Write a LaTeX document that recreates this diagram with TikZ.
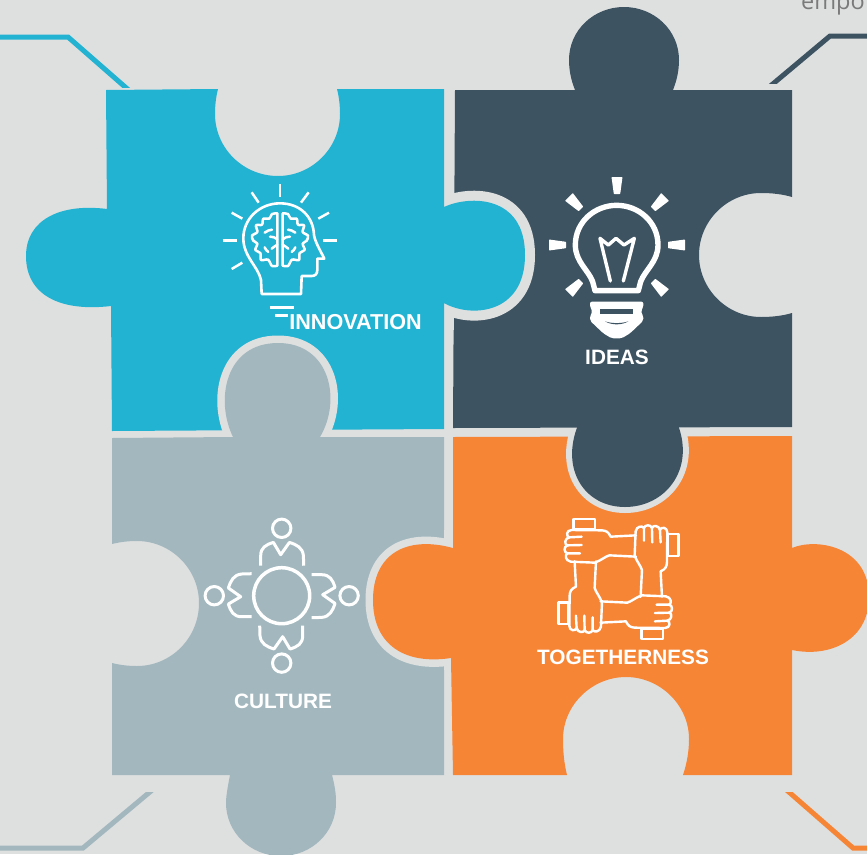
\documentclass[tikz,border=0pt]{standalone}
\usepackage{fontspec}
\setmainfont{Liberation Sans}
\newfontfamily\thinfont{Open Sans}
\definecolor{bgc}{HTML}{DEE0E0}
\definecolor{bluec}{HTML}{22B2D2}
\definecolor{darkc}{HTML}{3D5361}
\definecolor{orangec}{HTML}{F78536}
\definecolor{grayc}{HTML}{A3B8BE}
\tikzset{
  zoomed/.style 2 args={shift={(#1pt,-#2pt)},x=.33333pt,y=-.33333pt},
  label text/.style={text=white,font=\bfseries\fontsize{20.8}{24}\selectfont,inner sep=0pt},
  iconline/.style={draw=white,line width=#1,line cap=round,line join=round},
  iconline/.default=3pt,
  gap/.style={draw=bgc,line width=#1,fill=none},
  link/.style={line width=5pt,line join=miter}
}
\newcommand{\LobePath}{
  \draw[iconline=2.5pt] plot[smooth,tension=.55] coordinates {(232,130)(216,132)(208,146)(190,146)(186,164)(168,166)(172,186)(156,197)(160,212)(172,221)(166,240)(181,249)(183,270)(204,269)(216,288)(232,287)} -- cycle;
  \draw[iconline=2.5pt] (194,188) .. controls (202,182) and (208,180) .. (216,179);
  \draw[iconline=2.5pt] (210,200) .. controls (218,198) and (226,204) .. (232,208);
  \draw[iconline=2.5pt] (194,232) .. controls (196,238) and (200,242) .. (205,246);
  \draw[iconline=2.5pt] (215,236) .. controls (222,232) and (226,226) .. (232,224);
}
\begin{document}
\begin{tikzpicture}[x=1pt,y=-1pt]
\useasboundingbox (0,0) rectangle (867,854);
\clip (0,0) rectangle (867,854);
\fill[bgc] (0,0) rectangle (867,854);

% caption fragment
\node[anchor=base west,inner sep=0pt,text=black!52,font=\thinfont\fontsize{23.5}{26}\selectfont] (caption) at (801,9) {empo};

% connectors
\coordinate (tl0) at (0,37); \coordinate (tl1) at (68,37); \coordinate (tl2) at (132,93);
\coordinate (tr0) at (867,36); \coordinate (tr1) at (830,36); \coordinate (tr2) at (768,88);
\coordinate (bl0) at (0,848); \coordinate (bl1) at (83,848); \coordinate (bl2) at (157,786);
\coordinate (br0) at (867,848); \coordinate (br1) at (853,848); \coordinate (br2) at (782,786);
\begin{scope}
  \clip (0,0) rectangle (867,87);
  \draw[link,bluec] (tl0) -- (tl1) -- (tl2);
\end{scope}
\begin{scope}
  \clip (0,0) rectangle (867,83);
  \draw[link,darkc] (tr0) -- (tr1) -- (tr2);
\end{scope}
\begin{scope}
  \clip (0,792) rectangle (867,854);
  \draw[link,grayc] (bl0) -- (bl1) -- (bl2);
  \draw[link,orangec] (br0) -- (br1) -- (br2);
\end{scope}

% dark piece
\fill[darkc] (455,90) -- (575,90) .. controls (571,80) and (569,70) .. (569,60)
  .. controls (569,30) and (594,7) .. (624,7)
  .. controls (654,7) and (679,30) .. (679,60)
  .. controls (679,70) and (677,80) .. (673,90) -- (792,90) -- (792,197)
  .. controls (782,194) and (771,193) .. (761,193)
  .. controls (727,193) and (699,221) .. (699,255)
  .. controls (699,289) and (727,317) .. (761,317)
  .. controls (771,317) and (782,316) .. (792,313) -- (792,427) -- (453,428) -- cycle;

% blue tab outline, blue piece
\draw[gap=20pt] (444,207) .. controls (470,195) and (525,195) .. (525,255)
  .. controls (525,315) and (470,318) .. (444,303);
\fill[bgc] (444,180) rectangle (454,330);
\fill[bluec] (106,90) -- (218,89) .. controls (216,97) and (215,105) .. (215,114)
  .. controls (215,148) and (243,176) .. (278,176)
  .. controls (312,176) and (340,148) .. (340,114)
  .. controls (340,105) and (339,97) .. (337,89) -- (444,89) -- (444,207)
  .. controls (470,195) and (525,195) .. (525,255)
  .. controls (525,315) and (470,318) .. (444,303) -- (444,429) -- (112,431)
  -- (111,306) .. controls (60,312) and (26,295) .. (26,256)
  .. controls (26,220) and (60,203) .. (107,209) -- cycle;

% gray piece
\draw[gap=15pt] (233,437) .. controls (215,400) and (225,343) .. (278,343)
  .. controls (330,343) and (342,400) .. (320,437);
\fill[grayc] (112,438) -- (233,437) .. controls (215,400) and (225,343) .. (278,343)
  .. controls (330,343) and (342,400) .. (320,437) -- (444,437) -- (444,775) -- (332,775)
  .. controls (336,790) and (336,798) .. (336,803)
  .. controls (336,832) and (312,856) .. (281,856)
  .. controls (250,856) and (226,832) .. (226,803)
  .. controls (226,798) and (227,790) .. (230,775) -- (112,775) -- (112,663)
  .. controls (120,665) and (128,666) .. (137,666)
  .. controls (171,666) and (199,638) .. (199,603)
  .. controls (199,569) and (171,541) .. (137,541)
  .. controls (128,541) and (120,542) .. (112,544) -- cycle;

% orange piece
\draw[gap=15pt] (453,548) .. controls (405,535) and (373,555) .. (373,600)
  .. controls (373,645) and (405,665) .. (451,658);
\fill[bgc] (444,530) rectangle (453,670);
\fill[orangec] (453,437) -- (792,436) -- (792,548) .. controls (815,538) and (869,545) .. (869,597)
  .. controls (869,640) and (830,658) .. (792,650) -- (792,775) -- (683,775)
  .. controls (687,763) and (689,751) .. (689,739)
  .. controls (689,705) and (660,677) .. (626,677)
  .. controls (592,677) and (563,705) .. (563,739)
  .. controls (563,751) and (564,763) .. (567,775) -- (453,775) -- (451,658)
  .. controls (405,665) and (373,645) .. (373,600)
  .. controls (373,555) and (405,535) .. (453,548) -- cycle;

% dark bottom tab
\begin{scope}
  \clip (440,431) rectangle (800,540);
  \draw[gap=12pt] (578,425) .. controls (560,470) and (585,507) .. (625,507)
    .. controls (665,507) and (695,470) .. (678,425);
\end{scope}
\fill[darkc] (578,425) .. controls (560,470) and (585,507) .. (625,507)
  .. controls (665,507) and (695,470) .. (678,425) -- cycle;

% head and brain icon
\begin{scope}[zoomed={200}{170}]
  \draw[iconline=2.6pt] (185,372) -- (183,330) .. controls (175,290) and (130,260) .. (130,205)
    .. controls (130,145) and (180,100) .. (240,100)
    .. controls (300,100) and (340,140) .. (342,195)
    .. controls (345,215) and (360,240) .. (373,266) -- (352,266) -- (352,300)
    .. controls (352,312) and (345,318) .. (335,318) -- (305,318) -- (303,372) -- cycle;
  \foreach \a/\b/\c/\d in {240/42/240/80,155/67/176/98,95/128/127/146,68/211/110/211,95/297/127/278,
     326/67/303/98,387/128/355/146,410/211/368/211}
    \draw[draw=white,line width=2.5pt] (\a,\b) -- (\c,\d);
  \LobePath
  \begin{scope}[shift={(160pt,0pt)},xscale=-1]
    \LobePath
  \end{scope}
  \draw[draw=white,line width=2.5pt] (209,413) -- (282,413);
  \draw[draw=white,line width=2.5pt] (225,437) -- (263,437);
\end{scope}

% bulb icon
\foreach \a in {0,45,90,135,180,-45,-135}
  \fill[white,rotate around={\a:(617,245)},rounded corners=.6pt]
    (668,241.8) -- (685,239.5) -- (685,250.5) -- (668,248.2) -- cycle;
\begin{scope}[zoomed={530}{170}]
  \draw[iconline=5.4pt] (195,362) -- (188,335) .. controls (175,300) and (136,275) .. (136,225)
    .. controls (136,155) and (195,106) .. (260,106)
    .. controls (325,106) and (384,155) .. (384,225)
    .. controls (384,275) and (345,300) .. (332,335) -- (325,362) -- cycle;
  \draw[iconline=3.4pt] (241,333) -- (210,205) -- (235,225) -- (258,205) -- (282,225) -- (313,205) -- (280,333);
  \fill[white,rounded corners=2pt] (180,395) -- (340,395) -- (340,412) -- (332,424) -- (340,438) -- (340,452)
    -- (300,490) -- (275,505) -- (245,505) -- (220,490) -- (180,452) -- (180,438) -- (188,424) -- (180,412) -- cycle;
  \fill[darkc] (210,418) rectangle (310,432);
  \fill[darkc] (225,454) .. controls (245,466) and (275,466) .. (295,454)
     .. controls (275,461) and (245,461) .. (225,454) -- cycle;
\end{scope}

% culture icon
\draw[iconline=3.5pt] (281.7,595.7) circle (28);
\foreach \a in {0,90,180,270}{
  \begin{scope}[rotate around={\a:(281.7,595.7)},shift={(281.7pt,-595.7pt)}]
    \draw[iconline=3pt] (0,-67.4) circle (9.2);
    \draw[draw=white,line width=3pt,line join=round] (-21,-30) -- (-21,-40)
      .. controls (-21,-48) and (-16,-51) .. (-8.3,-53.3) -- (-1,-41) -- (7.7,-53.3)
      .. controls (15,-51) and (21,-48) .. (21.7,-40) -- (22,-30);
  \end{scope}
}

% hands icon
\foreach \a in {0,90,180,270}{
  \begin{scope}[rotate around={\a:(618.3,579)}]
  \begin{scope}[zoomed={540}{510}]
    \draw[iconline=2.4pt] (100,27) rectangle (165,58);
    \draw[iconline=2.4pt] (288,76) -- (212,80) .. controls (205,65) and (198,62) .. (185,61) -- (95,60)
      .. controls (78,60) and (78,80) .. (88,82) .. controls (74,84) and (72,104) .. (82,106)
      .. controls (70,110) and (72,128) .. (82,130) .. controls (74,135) and (76,152) .. (92,155)
      -- (165,158) .. controls (185,150) and (195,140) .. (208,136) -- (288,140);
    \draw[iconline=2.4pt] (88,82) -- (125,80) (82,106) -- (125,105) (82,130) -- (120,130);
  \end{scope}
  \end{scope}
}

% labels
\node[label text,font=\bfseries\fontsize{21.6}{24}\selectfont] (innovation) at (355.5,322) {INNOVATION};
\node[label text] (ideas) at (617,357) {IDEAS};
\node[label text] (culture) at (283,701) {CULTURE};
\node[label text] (togetherness) at (623,657.5) {TOGETHERNESS};
\end{tikzpicture}
\end{document}
